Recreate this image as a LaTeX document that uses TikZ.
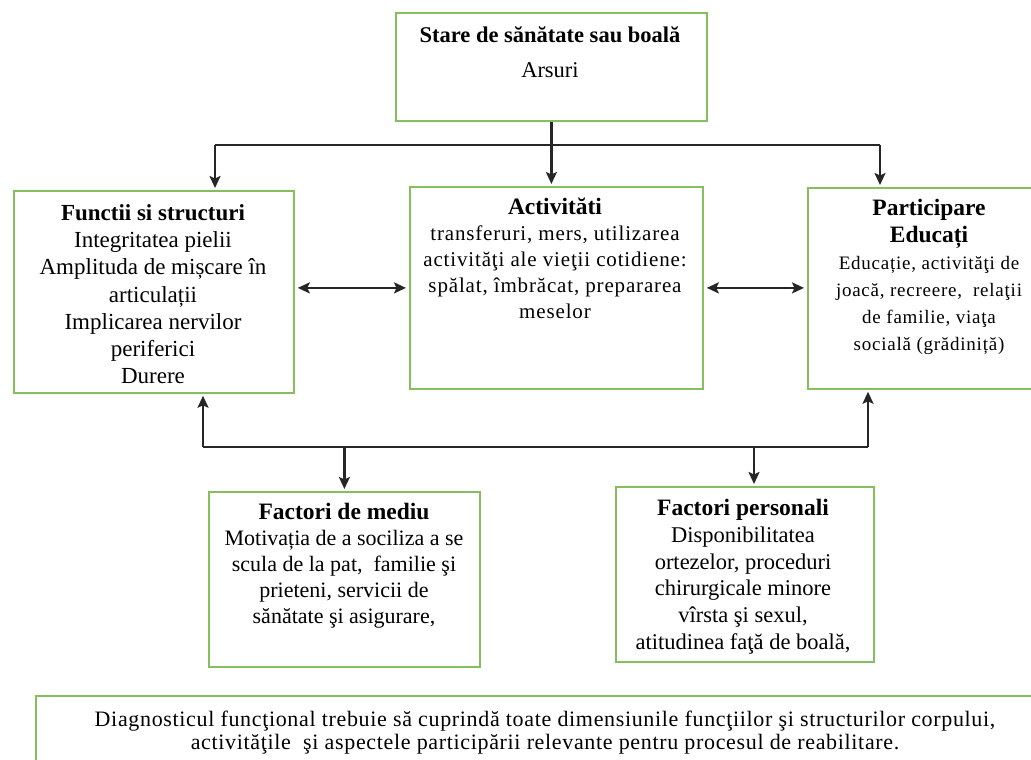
\documentclass[tikz,border=0pt]{standalone}
\usepackage{fontspec}
\setmainfont{Liberation Serif}
\newfontfamily\spacedserif[LetterSpace=4]{Liberation Serif}
\newfontfamily\botserif[LetterSpace=3]{Liberation Serif}
\usetikzlibrary{arrows.meta}
\definecolor{boxgreen}{RGB}{134,190,94}
\newcommand\myfs[2]{\fontsize{#1}{#2}\selectfont}
\begin{document}
\begin{tikzpicture}[x=1pt,y=-1pt,
  box/.style={draw=boxgreen,line width=1.8pt,fill=white,inner sep=0pt,anchor=north west},
  txt/.style={align=center,inner sep=0pt,anchor=north},
  conn/.style={line width=2.2pt,black!85},
  arr/.style={conn,-{Stealth[length=12pt,width=11pt,inset=2.5pt]},shorten >=2pt},
  arrs/.style={conn,{Stealth[length=12pt,width=11pt,inset=2.5pt]}-{Stealth[length=12pt,width=11pt,inset=2.5pt]},shorten >=3pt,shorten <=3pt}]
\clip (0,0) rectangle (1031,760);
\fill[white] (0,0) rectangle (1031,760);
% boxes
\node[box,minimum width=311pt,minimum height=108pt] (top) at (395,12) {};
\node[box,minimum width=280pt,minimum height=202pt] (fun) at (13,190) {};
\node[box,minimum width=293pt,minimum height=202pt] (act) at (409,186) {};
\node[box,minimum width=240pt,minimum height=201pt] (par) at (807,187) {};
\node[box,minimum width=271pt,minimum height=175pt] (med) at (208,491) {};
\node[box,minimum width=258pt,minimum height=175pt] (per) at (615,486) {};
\node[box,minimum width=1010pt,minimum height=80pt] (bot) at (35,695) {};
% texts
\node[txt,font=\myfs{22.5}{27}] (topt) at (550,26) {{\bfseries Stare de sănătate sau boală}\\[8pt]Arsuri};
\node[txt,font=\myfs{23}{27.3}] (funt) at (153,204) {{\bfseries Functii si structuri}\\Integritatea pielii\\Amplituda de mișcare în\\articulații\\Implicarea nervilor\\periferici\\Durere};
\node[txt,font=\myfs{21}{26}\spacedserif] (actt) at (555,198) {{\myfs{23.5}{26}\rmfamily\bfseries Activităti}\\transferuri, mers, utilizarea\\activităţi ale vieţii cotidiene:\\spălat, îmbrăcat, prepararea\\meselor};
\node[txt,font=\myfs{19}{27}\spacedserif] (part) at (929,199) {{\myfs{23.5}{27}\rmfamily\bfseries Participare}\\{\myfs{23.5}{27}\rmfamily\bfseries Educați}\\Educație, activităţi de\\joacă, recreere,\ \ relaţii\\de familie, viaţa\\socială (grădiniță)};
\node[txt,font=\myfs{22}{26}] (medt) at (344,503) {{\myfs{23.5}{26}\bfseries Factori de mediu}\\Motivația de a sociliza a se\\scula de la pat,\ \ familie şi\\prieteni, servicii de\\sănătate şi asigurare,};
\node[txt,font=\myfs{22.5}{26.8}] (pert) at (743,499) {{\myfs{23.5}{26.8}\bfseries Factori personali}\\Disponibilitatea\\ortezelor, proceduri\\chirurgicale minore\\vîrsta şi sexul,\\atitudinea faţă de boală,};
\node[txt,font=\myfs{22}{23}\botserif] (bott) at (545,711) {Diagnosticul funcţional trebuie să cuprindă toate dimensiunile funcţiilor şi structurilor corpului,\\activităţile\ \ şi aspectele participării relevante pentru procesul de reabilitare.};
% connectors
\coordinate (hl) at (215,145);
\coordinate (hr) at (880,145);
\draw[arr] (top.south) -- (top.south |- act.north);
\draw[conn] (hl) -- (hr);
\draw[arr] (hl) -- (hl |- fun.north);
\draw[arr] (hr) -- (hr |- par.north);
\draw[arrs] (act.west -| fun.east) -- (act.west);
\draw[arrs] (act.east) -- (act.east -| par.west);
\coordinate (bl) at (203,447);
\coordinate (br) at (868,447);
\coordinate (bp) at (754,447);
\draw[conn] (bl) -- (br);
\draw[arr] (bl) -- (bl |- fun.south);
\draw[arr] (br) -- (br |- par.south);
\draw[arr] (med.north |- bl) -- (med.north);
\draw[arr] (bp) -- (bp |- per.north);
\end{tikzpicture}
\end{document}
